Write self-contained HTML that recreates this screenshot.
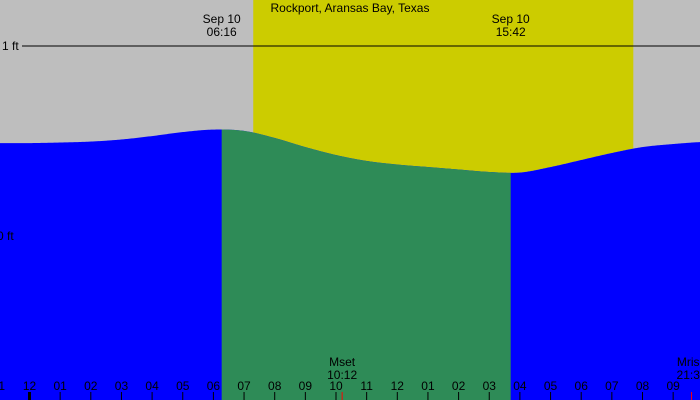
<!DOCTYPE html>
<html><head><meta charset="utf-8"><style>
html,body{margin:0;padding:0;width:700px;height:400px;overflow:hidden;background:#bebebe}
svg{display:block;font-family:"Liberation Sans",sans-serif;font-size:12px}
</style></head><body>
<svg id="chart" width="700" height="400" xmlns="http://www.w3.org/2000/svg">
<rect x="0" y="0" width="700" height="400" fill="#bebebe"/>
<g id="marks"></g>
<g id="axis"></g>
<g id="labels"></g>
</svg>
<script>
const hours = [-1,0,1,2,3,4,5,6,7,8,9,10,11,12,13,14,15,16,17,18,19,20,21,22];
const heightsFt = [0.489,0.489,0.492,0.497,0.508,0.526,0.547,0.560,0.553,0.516,0.468,0.426,0.395,0.376,0.363,0.350,0.337,0.334,0.363,0.400,0.437,0.468,0.484,0.495];
const dayStartHour = 7.3, dayEndHour = 19.7;
const greenStartHour = 6.27, greenEndHour = 15.7;
const tickLabels = ["11","12","01","02","03","04","05","06","07","08","09","10","11","12","01","02","03","04","05","06","07","08","09"];
const tickHours = [-1,0,1,2,3,4,5,6,7,8,9,10,11,12,13,14,15,16,17,18,19,20,21];
const extremes = [{h:-2.4,d:"Sep 09",t:"21:53"},{h:6.27,d:"Sep 10",t:"06:16"},{h:15.7,d:"Sep 10",t:"15:42"}];
const moonEvents = [{h:10.2,n:"Mset",t:"10:12"},{h:21.6,n:"Mrise",t:"21:36"}];

const X = h => 29.5 + h*30.65;
const Y = ft => 236 - ft*190;
const NS = "http://www.w3.org/2000/svg";
function mk(tag, attrs, parent){const e=document.createElementNS(NS,tag);for(const k in attrs)e.setAttribute(k,attrs[k]);parent.appendChild(e);return e;}
const marks=document.getElementById('marks'), axis=document.getElementById('axis'), labels=document.getElementById('labels');

// curve points (catmull-rom sampled)
const pts = hours.map((h,i)=>[X(h),Y(heightsFt[i])]);
function curveAt(x){
  for(let i=0;i<pts.length-1;i++){
    if(x>=pts[i][0]&&x<=pts[i+1][0]){
      const p0=pts[Math.max(0,i-1)],p1=pts[i],p2=pts[i+1],p3=pts[Math.min(pts.length-1,i+2)];
      const t=(x-p1[0])/(p2[0]-p1[0]);
      const m1=(p2[1]-p0[1])/2,m2=(p3[1]-p1[1])/2;
      const t2=t*t,t3=t2*t;
      return (2*t3-3*t2+1)*p1[1]+(t3-2*t2+t)*m1+(-2*t3+3*t2)*p2[1]+(t3-t2)*m2;
    }
  }
  return x<pts[0][0]?pts[0][1]:pts[pts.length-1][1];
}
function areaPath(x0,x1,top){
  let d=`M${x0},400`;
  for(let x=x0;x<=x1;x+=1)d+=` L${x},${top?0:curveAt(x)}`;
  d+=` L${x1},${top?0:curveAt(x1)} L${x1},400 Z`;
  return d;
}
function abovePath(x0,x1){
  let d=`M${x0},0`;
  for(let x=x0;x<=x1;x+=1)d+=` L${x},${curveAt(x)}`;
  d+=` L${x1},${curveAt(x1)} L${x1},0 Z`;
  return d;
}
let e;
e=mk('path',{d:abovePath(X(dayStartHour),X(dayEndHour)),fill:'#cccc00'},marks);


e=mk('path',{d:areaPath(0,700,false),fill:'#0000ff'},marks);


e=mk('path',{d:areaPath(X(greenStartHour),X(greenEndHour),false),fill:'#2e8b57'},marks);



e=mk('line',{x1:22,x2:700,y1:Y(1),y2:Y(1),stroke:'#000','stroke-width':1},axis);


e=mk('text',{x:2,y:Y(1)+4},axis);e.textContent='1 ft';


e=mk('text',{x:-3,y:Y(0)+4},axis);e.textContent='0 ft';



tickHours.forEach((h,i)=>{
  const x=X(h);
  const t=mk('line',{x1:x,x2:x,y1:392,y2:400,stroke:'#000','stroke-width':h===0?3:1},axis);
  
  
  const l=mk('text',{x:x,y:390,'text-anchor':'middle'},axis);l.textContent=tickLabels[i];
  
  
});

e=mk('text',{x:350,y:12,'text-anchor':'middle'},labels);e.textContent='Rockport, Aransas Bay, Texas';


extremes.forEach(ex=>{
  const x=X(ex.h);
  const a=mk('text',{x:x,y:23,'text-anchor':'middle'},labels);a.textContent=ex.d;
  
  
  const b=mk('text',{x:x,y:36,'text-anchor':'middle'},labels);b.textContent=ex.t;
  
  
});
moonEvents.forEach(m=>{
  const x=X(m.h);
  const a=mk('text',{x:x,y:366,'text-anchor':'middle'},labels);a.textContent=m.n;
  
  
  const b=mk('text',{x:x,y:379,'text-anchor':'middle'},labels);b.textContent=m.t;
  
  
  const t=mk('line',{x1:x,x2:x,y1:392,y2:400,stroke:'#ff0000','stroke-width':1},labels);
  
  
});
</script>
</body></html>
